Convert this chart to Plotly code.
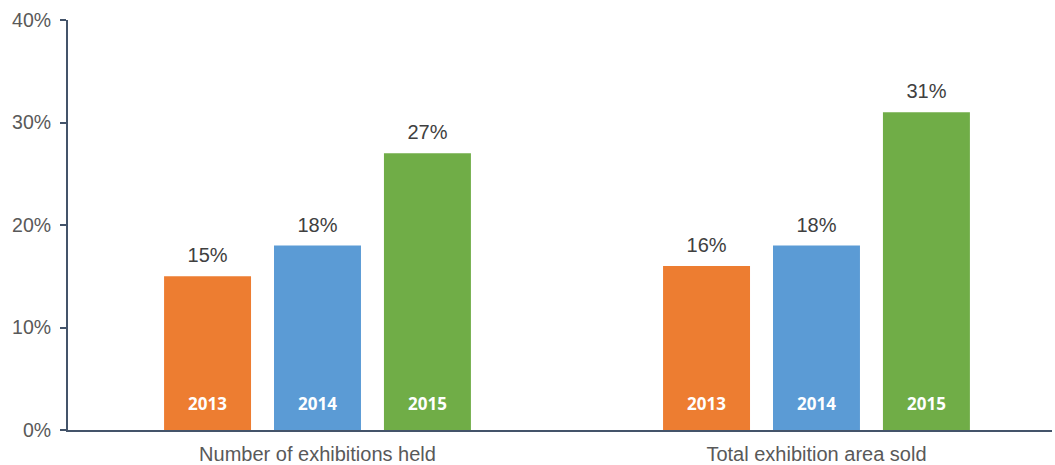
import plotly.graph_objects as go

categories = ["Number of exhibitions held", "Total exhibition area sold"]
years = ["2013", "2014", "2015"]
values_2013 = [15, 16]
values_2014 = [18, 18]
values_2015 = [27, 31]
series_values = [values_2013, values_2014, values_2015]
colors = ["#ED7D31", "#5B9BD5", "#70AD47"]
y_ticks = [0, 10, 20, 30, 40]
y_tick_labels = ["0%", "10%", "20%", "30%", "40%"]

fig = go.Figure()
for yr, vals, col in zip(years, series_values, colors):
    # coloured bar
    fig.add_trace(go.Bar(
        x=categories, y=vals, name=yr, offsetgroup=yr,
        marker=dict(color=col, line=dict(width=0)),
        hoverinfo="skip",
    ))
for yr, vals, col in zip(years, series_values, colors):
    # percentage label above each bar
    fig.add_trace(go.Scatter(
        x=categories, y=vals, name=yr + " value", offsetgroup=yr,
        mode="markers+text",
        marker=dict(size=12.8, opacity=0, color=col),
        text=[f"{v}%" for v in vals], textposition="top center",
        textfont=dict(family="Liberation Sans, Arial", size=20, color="#404040"),
        cliponaxis=False, hoverinfo="skip", showlegend=False,
    ))
    # year label at the foot of each bar
    fig.add_trace(go.Scatter(
        x=categories, y=[0 for _ in vals], name=yr + " year", offsetgroup=yr,
        mode="markers+text",
        marker=dict(size=23.6, opacity=0, color=col),
        text=[yr for _ in vals], textposition="top center",
        textfont=dict(family="Open Sans, Liberation Sans", size=17, color="white", weight="bold"),
        cliponaxis=False, hoverinfo="skip", showlegend=False,
    ))

fig.update_layout(
    width=1055, height=465, autosize=False,
    margin=dict(l=68, r=3, t=20, b=35),
    paper_bgcolor="white", plot_bgcolor="white",
    barmode="group", bargap=0.339, bargroupgap=0.209,
    scattermode="group", scattergap=0.339,
    showlegend=False,
    xaxis=dict(
        type="category", range=[-0.5, 1.472], automargin=False,
        showline=True, linecolor="#44546A", linewidth=2,
        ticks="", showgrid=False, ticklabelstandoff=5,
        tickfont=dict(family="Liberation Sans, Arial", size=20, color="#595959"),
    ),
    yaxis=dict(
        range=[0, 40], tickvals=y_ticks, ticktext=y_tick_labels, automargin=False,
        showline=True, linecolor="#44546A", linewidth=2,
        ticks="outside", ticklen=6, tickwidth=2, tickcolor="#44546A",
        showgrid=False, zeroline=False, ticklabelstandoff=5,
        tickfont=dict(family="Liberation Sans, Arial", size=19.5, color="#595959"),
    ),
)

fig.write_html(
    "out.html",
    config={"responsive": False, "displayModeBar": False},
    post_script="document.body.style.margin='0';document.body.style.overflow='hidden';",
)
